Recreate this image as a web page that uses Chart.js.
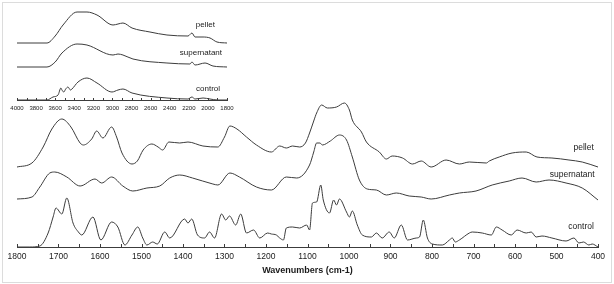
<!DOCTYPE html>
<html>
<head>
<meta charset="utf-8">
<script src="https://cdn.jsdelivr.net/npm/chart.js@4"></script>
<style>
  body { margin: 0; background: #fff; }
  #wrap { position: relative; width: 614px; height: 284px; }
  #frame { position: absolute; left: 2px; top: 2px; width: 608px; height: 279px; border: 1px solid #dcdcdc; }
  #mainChart { position: absolute; left: 0; top: 0; }
  #insetChart { position: absolute; left: 0; top: 0; }
</style>
</head>
<body>
<div id="wrap">
  <div id="frame"></div>
  <canvas id="mainChart" width="614" height="284"></canvas>
  <canvas id="insetChart" width="240" height="118"></canvas>
</div>
<script>
// main spectrum, 1800-400 cm-1 (offset absorbance, arbitrary units)
const pelletWn = [1800, 1764, 1737, 1716, 1692, 1670, 1648, 1640, 1620, 1608, 1593, 1572, 1560, 1547, 1523, 1510, 1496, 1475, 1460, 1449, 1434, 1408, 1388, 1352, 1316, 1300, 1287, 1270, 1247, 1223, 1187, 1167, 1151, 1136, 1119, 1105, 1095, 1085, 1078, 1066, 1052, 1030, 1011, 999, 992, 970, 958, 927, 910, 896, 871, 847, 826, 802, 766, 734, 710, 669, 662, 638, 607, 573, 547, 511, 470, 438, 400];
const pelletAbs = [80, 84, 100, 118, 128, 120, 104, 102, 108, 116, 109, 120, 110, 94, 83, 86, 97, 103, 100, 97, 105, 104, 105, 101, 100, 110, 121, 118, 110, 102, 95, 101, 99, 101, 100, 104, 114, 126, 134, 142, 139, 140, 144, 137, 127, 115, 105, 95, 88, 91, 89, 83, 86, 80, 87, 83, 85, 84, 86, 90, 94, 95, 90, 89, 87, 85, 80];

const superWn = [1800, 1764, 1745, 1721, 1709, 1680, 1648, 1612, 1596, 1572, 1545, 1521, 1487, 1456, 1432, 1408, 1377, 1328, 1316, 1287, 1264, 1223, 1187, 1151, 1126, 1095, 1085, 1078, 1070, 1064, 1045, 1023, 1006, 992, 975, 956, 934, 910, 886, 855, 826, 802, 758, 734, 694, 655, 614, 583, 549, 518, 477, 438, 400];
const superAbs = [48, 50, 60, 74, 75, 70, 61, 68, 64, 70, 61, 56, 59, 61, 69, 72, 69, 63, 62, 74, 70, 60, 57, 70, 69, 82, 95, 104, 104, 102, 106, 112, 107, 90, 67, 58, 57, 52, 54, 51, 50, 48, 52, 54, 56, 62, 66, 69, 65, 67, 64, 59, 47];

const controlWn = [1800, 1769, 1745, 1725, 1713, 1706, 1692, 1680, 1665, 1652, 1644, 1617, 1598, 1572, 1557, 1540, 1523, 1509, 1497, 1487, 1473, 1462, 1444, 1432, 1396, 1388, 1379, 1365, 1348, 1336, 1324, 1307, 1297, 1288, 1273, 1261, 1247, 1230, 1215, 1196, 1187, 1175, 1167, 1158, 1151, 1136, 1119, 1102, 1095, 1088, 1078, 1068, 1062, 1047, 1037, 1030, 1023, 1006, 999, 992, 980, 968, 946, 934, 920, 903, 891, 874, 859, 838, 830, 821, 811, 799, 775, 758, 751, 744, 734, 710, 703, 679, 657, 645, 631, 609, 595, 573, 561, 549, 535, 511, 477, 458, 446, 435, 422, 414, 400];
const controlAbs = [0, 0, 1, 14, 30, 39, 33, 49, 24, 15, 12, 30, 7, 25, 20, 2, 12, 20, 9, 2, 5, 3, 15, 9, 28, 24, 28, 12, 9, 15, 9, 33, 27, 31, 22, 33, 14, 17, 9, 14, 13, 12, 9, 7, 19, 20, 19, 22, 17, 44, 45, 62, 47, 34, 47, 42, 48, 35, 30, 36, 22, 12, 10, 14, 9, 15, 9, 22, 7, 9, 10, 27, 9, 3, 2, 7, 9, 5, 7, 14, 15, 14, 12, 20, 17, 12, 17, 14, 15, 10, 11, 9, 6, 9, 4, 5, 2, 3, 0];

// inset spectrum, 4000-1800 cm-1
const insetPelletWn = [4000, 3686, 3600, 3518, 3371, 3267, 3162, 2994, 2942, 2890, 2795, 2607, 2429, 2209, 2167, 2135, 2051, 1978, 1905, 1800];
const insetPelletAbs = [57, 57, 64, 75, 88, 88, 85, 75, 76, 77, 72, 68, 65, 64, 67, 63, 63, 62, 58, 57];
const insetSuperWn = [4000, 3686, 3600, 3529, 3371, 3267, 2994, 2942, 2890, 2785, 2429, 2188, 2167, 2135, 2030, 1947, 1800];
const insetSuperAbs = [33, 33, 38, 47, 56, 55, 45, 46, 45, 41, 37, 36, 38, 35, 37, 34, 33];
const insetControlWn = [4000, 3686, 3623, 3570, 3540, 3529, 3510, 3490, 3466, 3440, 3424, 3361, 3267, 3162, 3005, 2942, 2890, 2795, 2429, 2209, 2167, 2135, 2051, 1978, 1900, 1800];
const insetControlAbs = [0, 0, 3, 5, 12, 10, 8, 11, 13, 10, 11, 18, 22, 17, 8, 10, 11, 7, 2, 1, 3, 1, 2, 1, 0, 0];

const seriesNames = ['pellet', 'supernatant', 'control'];

const lineColor = '#3c3c3c';
const textColor = '#1a1a1a';
const fontFamily = "'Liberation Sans', Arial, sans-serif";

function toPoints(xs, ys) {
    return xs.map((x, i) => ({ x: x, y: ys[i] }));
}

function lineSet(label, xs, ys) {
    return {
        label: label,
        data: toPoints(xs, ys),
        borderColor: lineColor,
        borderWidth: 1,
        pointRadius: 0,
        fill: false,
        cubicInterpolationMode: 'monotone'
    };
}

// ticks pointing up into the plot, like the original
const innerTicks = {
    id: 'innerTicks',
    afterDraw(chart, args, opts) {
        const s = chart.scales.x;
        const ctx = chart.ctx;
        ctx.save();
        ctx.strokeStyle = lineColor;
        ctx.lineWidth = 1;
        ctx.beginPath();
        s.ticks.forEach(t => {
            const px = Math.round(s.getPixelForValue(t.value)) + 0.5;
            ctx.moveTo(px, s.top);
            ctx.lineTo(px, s.top - opts.length);
        });
        ctx.stroke();
        ctx.restore();
    }
};

// series names drawn next to the curves
const curveLabels = {
    id: 'curveLabels',
    afterDatasetsDraw(chart, args, opts) {
        const ctx = chart.ctx;
        ctx.save();
        ctx.fillStyle = textColor;
        ctx.font = opts.size + 'px ' + fontFamily;
        ctx.textAlign = 'right';
        ctx.textBaseline = 'middle';
        opts.items.forEach(it => {
            ctx.fillText(it.text, chart.scales.x.getPixelForValue(it.x), chart.scales.y.getPixelForValue(it.y));
        });
        ctx.restore();
    }
};

function drawMain() {
    const ctx = document.getElementById('mainChart').getContext('2d');
    new Chart(ctx, {
        type: 'line',
        data: {
            datasets: [
                lineSet(seriesNames[0], pelletWn, pelletAbs),
                lineSet(seriesNames[1], superWn, superAbs),
                lineSet(seriesNames[2], controlWn, controlAbs)
            ]
        },
        options: {
            responsive: false,
            animation: false,
            devicePixelRatio: 1,
            layout: { padding: { left: 17, right: 16, top: 97, bottom: 0 } },
            scales: {
                x: {
                    type: 'linear',
                    reverse: true,
                    min: 400,
                    max: 1800,
                    afterFit: s => { s.height = 37; },
                    grid: { display: false, drawTicks: false },
                    border: { display: true, color: lineColor, width: 1 },
                    ticks: {
                        stepSize: 50,
                        autoSkip: false,
                        maxRotation: 0,
                        padding: 5,
                        color: textColor,
                        font: { family: fontFamily, size: 8.5 },
                        callback: v => (v % 100 === 0 ? String(v) : '')
                    },
                    title: {
                        display: true,
                        text: 'Wavenumbers (cm-1)',
                        color: textColor,
                        font: { family: fontFamily, size: 9, weight: 'bold' },
                        padding: { top: 0, bottom: 8 }
                    }
                },
                y: { display: false, min: 0, max: 150 }
            },
            plugins: {
                legend: { display: false },
                tooltip: { enabled: false },
                innerTicks: { length: 3 },
                curveLabels: {
                    size: 8.5,
                    items: [
                        { text: seriesNames[0], x: 410, y: 99 },
                        { text: seriesNames[1], x: 408, y: 72 },
                        { text: seriesNames[2], x: 410, y: 20 }
                    ]
                }
            }
        },
        plugins: [innerTicks, curveLabels]
    });
}

function drawInset() {
    const ctx = document.getElementById('insetChart').getContext('2d');
    new Chart(ctx, {
        type: 'line',
        data: {
            datasets: [
                lineSet(seriesNames[0], insetPelletWn, insetPelletAbs),
                lineSet(seriesNames[1], insetSuperWn, insetSuperAbs),
                lineSet(seriesNames[2], insetControlWn, insetControlAbs)
            ]
        },
        options: {
            responsive: false,
            animation: false,
            devicePixelRatio: 1,
            layout: { padding: { left: 17, right: 13, top: 10, bottom: 0 } },
            scales: {
                x: {
                    type: 'linear',
                    reverse: true,
                    min: 1800,
                    max: 4000,
                    afterFit: s => { s.height = 18; },
                    grid: { display: false, drawTicks: false },
                    border: { display: true, color: lineColor, width: 1 },
                    ticks: {
                        stepSize: 100,
                        autoSkip: false,
                        maxRotation: 0,
                        padding: 5,
                        color: textColor,
                        font: { family: fontFamily, size: 6 },
                        callback: v => (v % 200 === 0 ? String(v) : '')
                    }
                },
                y: { display: false, min: 0, max: 90 }
            },
            plugins: {
                legend: { display: false },
                tooltip: { enabled: false },
                innerTicks: { length: 2 },
                curveLabels: {
                    size: 8,
                    items: [
                        { text: seriesNames[0], x: 1926, y: 75 },
                        { text: seriesNames[1], x: 1852, y: 47 },
                        { text: seriesNames[2], x: 1873, y: 11 }
                    ]
                }
            }
        },
        plugins: [innerTicks, curveLabels]
    });
}

window.addEventListener('load', () => {
    drawMain();
    drawInset();
});
</script>
</body>
</html>
